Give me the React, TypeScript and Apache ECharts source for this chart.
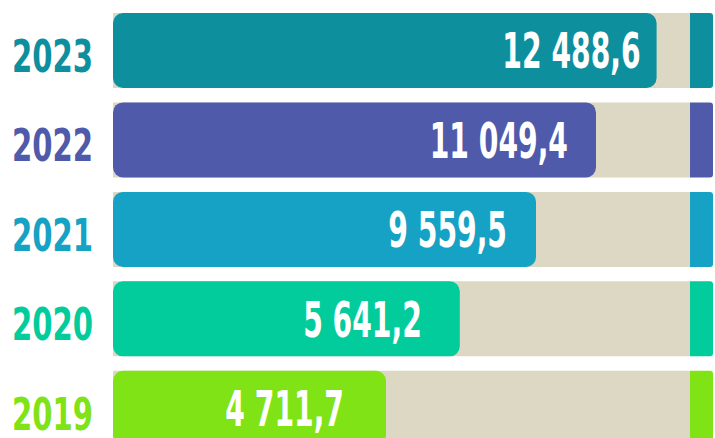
import React, { useEffect, useRef } from "react";
import * as echarts from "echarts";

const years = ["2023", "2022", "2021", "2020", "2019"];
const values = [12488.6, 11049.4, 9559.5, 5641.2, 4711.7];
// drawn bar extent, as share of the full row
const barShares = [90.6, 80.5, 70.5, 57.8, 45.5];
const trackShare = 96.17;
const capShare = 3.83;

const colors = ["#0E8F9E", "#4F5AAA", "#16A2C4", "#02CC9B", "#7FE315"];
const labelGaps = [16, 28, 29, 38, 42];
const FONT = "'DejaVu Sans Condensed', 'DejaVu Sans', sans-serif";

function fmt(v: number): string {
  const [i, d] = v.toFixed(1).split(".");
  return i.replace(/\B(?=(\d{3})+(?!\d))/g, " ") + "," + d;
}

export default function App() {
  const ref = useRef<HTMLDivElement>(null);
  useEffect(() => {
    if (!ref.current) return;
    const chart = echarts.init(ref.current, null, { renderer: "svg" });
    chart.setOption({
      animation: false,
      grid: { left: 113, right: 2, top: 5.75, bottom: 0, containLabel: false },
      xAxis: { type: "value", min: 0, max: 100, show: false },
      yAxis: {
        type: "category",
        data: years,
        inverse: true,
        axisLine: { show: false },
        axisTick: { show: false },
        splitLine: { show: false },
        axisLabel: { show: false },
      },
      series: [
        {
          type: "bar",
          stack: "track",
          barWidth: 75,
          barGap: "-100%",
          z: 1,
          itemStyle: { color: "#DDD8C4" },
          data: years.map(() => trackShare),
          silent: true,
        },
        {
          type: "bar",
          stack: "track",
          barWidth: 75,
          barGap: "-100%",
          z: 1,
          data: years.map((_, i) => ({
            value: capShare,
            itemStyle: { color: colors[i], borderRadius: [0, 3, 3, 0] },
          })),
          silent: true,
        },
        {
          type: "custom",
          z: 5,
          encode: { x: 1, y: 0 },
          data: barShares.map((s, i) => [i, s]),
          renderItem: (params: any, api: any) => {
            const i = params.dataIndex;
            const share = api.value(1);
            const start = api.coord([0, api.value(0)]);
            const end = api.coord([share, api.value(0)]);
            const h = 75;
            return {
              type: "group",
              children: [
                {
                  type: "rect",
                  shape: { x: start[0], y: start[1] - h / 2, width: end[0] - start[0], height: h, r: 10 },
                  style: { fill: colors[i] },
                },
                {
                  type: "text",
                  x: end[0] - labelGaps[i],
                  y: start[1] + 1,
                  scaleX: 0.64,
                  style: {
                    text: fmt(values[i]),
                    fill: "#FFFFFF",
                    fontFamily: FONT,
                    fontWeight: "bold",
                    fontSize: 49,
                    align: "right",
                    verticalAlign: "middle",
                  },
                },
                {
                  type: "text",
                  x: 12,
                  y: start[1] + 6,
                  scaleX: 0.72,
                  style: {
                    text: years[i],
                    fill: colors[i],
                    fontFamily: FONT,
                    fontWeight: "bold",
                    fontSize: 45,
                    align: "left",
                    verticalAlign: "middle",
                  },
                },
              ],
            };
          },
        },
      ],
    });
    return () => chart.dispose();
  }, []);
  return (
    <div
      ref={ref}
      style={{ position: "fixed", left: 0, top: 0, width: 715, height: 453, background: "#FFFFFF" }}
    />
  );
}
